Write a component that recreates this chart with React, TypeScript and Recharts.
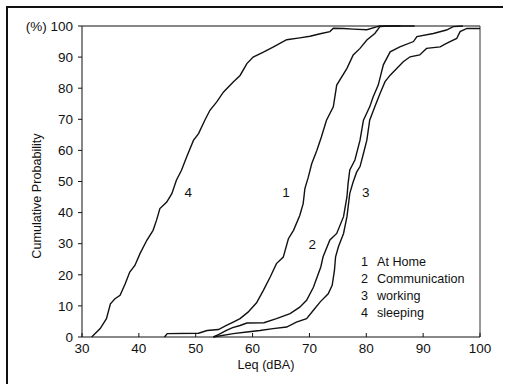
import React from 'react';
import { ComposedChart, Line, Scatter, XAxis, YAxis, ReferenceLine } from 'recharts';

// Leq (dBA) -> cumulative probability (%)
const atHome = [
  [44.5, 0], [45, 1.1], [50.5, 1.2], [52.0, 2.1], [54.0, 2.4], [55.4, 3.7], [56.6, 4.8],
  [57.8, 5.9], [59.2, 8], [60.7, 11.0], [61.9, 15], [63.1, 19.3], [64.2, 23.6], [65.4, 25.7],
  [66.3, 31.6], [67.2, 34.3], [68.3, 39.1], [68.9, 42.9], [69.2, 47.7], [69.8, 51.4],
  [70.4, 55.7], [71.3, 60], [72.1, 64.3], [73, 69.7], [74.2, 74], [74.8, 81], [76.6, 86.4],
  [77.7, 90.7], [78.9, 92.8], [80.1, 95.5], [81.5, 97.6], [82.4, 99.8], [84, 100], [86, 100],
];

const communication = [
  [53.1, 0], [54, 0.8], [55.4, 2.1], [56.5, 3], [57.8, 3.7], [59, 4.5], [62, 4.6],
  [64.2, 5.9], [66.6, 7.5], [68.3, 9.6], [69.5, 11.8], [70.7, 16], [71.5, 20], [72, 22.5],
  [72.4, 25.8], [73.6, 31.2], [74.8, 33.3], [76, 38.7], [76.6, 45.1], [76.8, 49.4],
  [77.1, 53.7], [78, 56.9], [78.9, 63.3], [79.5, 69.7], [80.6, 74], [81.2, 77.2], [82.1, 81],
  [83, 87.5], [84.2, 91.7], [85.9, 93.3], [88.3, 95], [88.9, 96.6], [91.8, 97.6],
  [94.1, 98.7], [95.3, 99.8], [97, 100],
];

const working = [
  [53.1, 0], [56.6, 1.1], [59, 1.6], [61.3, 2.1], [63.6, 2.7], [66, 3.2], [67.7, 4.8],
  [69.5, 5.9], [70.7, 8.6], [71.9, 11.3], [73.3, 13.9], [74, 16.6], [74.4, 21.4],
  [74.6, 25.8], [75.1, 29], [76, 33.3], [76.6, 38.7], [77.1, 46.2], [77.7, 49.9],
  [78.3, 53], [78.9, 54.8], [79.5, 59], [80.1, 63.3], [80.6, 69.7], [81.5, 74], [82.4, 78.2],
  [83.3, 82.1], [84.2, 84.2], [86.5, 88.5], [87.7, 90.1], [89.4, 90.7], [90.6, 92.8],
  [93, 93.3], [94.1, 94.4], [95.9, 96], [96.5, 98.2], [97.7, 99.2], [100, 99.2],
];

const sleeping = [
  [31.7, 0], [33.2, 2.7], [34.3, 5.9], [35.0, 10.7], [35.8, 12.3], [36.7, 13.4],
  [37.6, 17.1], [38.4, 20.9], [39.3, 23], [40.2, 26.8], [41.4, 31.1], [42.5, 34.3],
  [43.1, 37.5], [43.7, 41.3], [44.9, 43.4], [45.8, 46.1], [46.6, 50.4], [47.5, 53.6],
  [48.4, 57.9], [49.6, 63.2], [50.5, 65.4], [51.6, 69.7], [52.5, 72.9], [53.7, 75.6],
  [54.9, 78.8], [56.6, 82], [57.8, 84.1], [59.0, 87.9], [60.1, 90], [61.9, 91.6],
  [63.6, 93.2], [66.0, 95.6], [68.3, 96.2], [70.1, 96.7], [71.9, 97.5], [73.6, 98.2],
  [74.2, 99.3], [76, 99.2], [77.7, 99], [80.1, 98.8], [81.8, 99.7], [82.4, 100], [88.5, 100],
];

const seriesNames = ['At Home', 'Communication', 'working', 'sleeping'];
const seriesData = [atHome, communication, working, sleeping];

// curve number tags placed beside each curve
const curveTags = [
  { leq: 48.7, p: 46.6, t: '4' },
  { leq: 65.9, p: 46.6, t: '1' },
  { leq: 70.5, p: 29.9, t: '2' },
  { leq: 79.9, p: 46.6, t: '3' },
];

const xTicks = [30, 40, 50, 60, 70, 80, 90, 100];
const yTicks = [0, 10, 20, 30, 40, 50, 60, 70, 80, 90, 100];

const FONT = '"Liberation Sans", Arial, sans-serif';

const toPoints = (arr: number[][]) => arr.map(([leq, p]) => ({ leq, p }));

export default function App() {
  return (
    <div style={{ position: 'absolute', left: 0, top: 0, width: 509, height: 384, background: '#fff' }}>
      <div
        style={{
          position: 'absolute', left: 6, top: 6, width: 497, height: 378,
          borderTop: '2px solid #111', borderLeft: '2px solid #111', boxSizing: 'border-box',
        }}
      />
      <ComposedChart
        width={509}
        height={384}
        margin={{ top: 26, right: 29, left: 0, bottom: 17 }}
        style={{ fontFamily: FONT }}
      >
        <XAxis
          dataKey="leq"
          type="number"
          domain={[30, 100]}
          ticks={xTicks}
          allowDuplicatedCategory={false}
          height={30}
          stroke="#111"
          tickSize={-4}
          tickMargin={10}
          tick={{ fill: '#111', fontSize: 13.5 }}
          label={{
            content: () => (
              <text x={266} y={369} textAnchor="middle" fontSize={12.7} fill="#111" fontFamily={FONT}>
                Leq (dBA)
              </text>
            ),
          }}
        />
        <YAxis
          dataKey="p"
          type="number"
          domain={[0, 100]}
          ticks={yTicks}
          width={82}
          stroke="#111"
          tickSize={4}
          tickMargin={5}
          tick={{ fill: '#111', fontSize: 13.5 }}
          tickFormatter={(v: number) => (v === 100 ? '(%) 100' : String(v))}
          label={{
            content: () => (
              <text
                x={41}
                y={196}
                transform="rotate(-90 41 196)"
                textAnchor="middle"
                fontSize={12.6}
                fill="#111"
                fontFamily={FONT}
              >
                Cumulative Probability
              </text>
            ),
          }}
        />
        <ReferenceLine y={100} stroke="#111" strokeWidth={1.2} />
        <ReferenceLine x={100} stroke="#333" strokeWidth={1} />
        {seriesData.map((d, i) => (
          <Line
            key={seriesNames[i]}
            data={toPoints(d)}
            dataKey="p"
            name={seriesNames[i]}
            type="linear"
            stroke="#111"
            strokeWidth={1.4}
            dot={false}
            isAnimationActive={false}
          />
        ))}
        <Scatter
          data={curveTags}
          dataKey="p"
          legendType="none"
          isAnimationActive={false}
          shape={(props: any) => (
            <text
              x={props.cx}
              y={props.cy}
              textAnchor="middle"
              dominantBaseline="central"
              fontSize={13.5}
              fill="#111"
              fontFamily={FONT}
            >
              {props.payload.t}
            </text>
          )}
        />
      </ComposedChart>
      <div
        style={{
          position: 'absolute', left: 361, top: 254, fontFamily: FONT,
          fontSize: 12.6, lineHeight: '17px', color: '#111',
        }}
      >
        {seriesNames.map((name, i) => (
          <div key={name} style={{ display: 'flex' }}>
            <span style={{ width: 16 }}>{i + 1}</span>
            <span>{name}</span>
          </div>
        ))}
      </div>
    </div>
  );
}
